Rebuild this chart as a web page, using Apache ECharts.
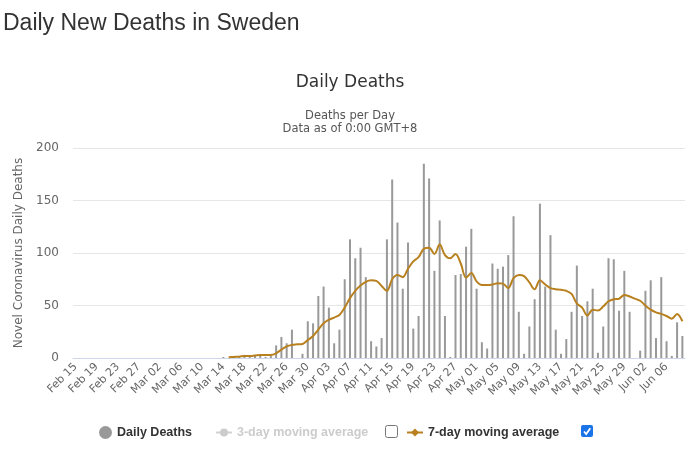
<!DOCTYPE html>
<html>
<head>
<meta charset="utf-8">
<script src="https://cdn.jsdelivr.net/npm/echarts@6/dist/echarts.min.js"></script>
<style>
  html, body { margin: 0; padding: 0; background: #fff; }
  #main { width: 700px; height: 453px; }
</style>
</head>
<body>
<div id="main"></div>
<script>
// Months shown on the x axis: [name, first day, last day]
const monthSpans = [
  ["Feb", 15, 29],
  ["Mar", 1, 31],
  ["Apr", 1, 30],
  ["May", 1, 31],
  ["Jun", 1, 9],
];

// Daily deaths, Feb 15 .. Jun 09
const dailyDeaths = [
  0, 0, 0, 0, 0, 0, 0, 0, 0, 0, 0, 0, 0, 0, 0,          // Feb 15-29
  0, 0, 0, 0, 0, 0, 0, 0, 0, 0, 0, 0, 0, 1, 0, 1,       // Mar 01-16
  1, 3, 1, 3, 3, 1, 2, 12, 20, 14, 27, 0, 4, 35, 33,    // Mar 17-31
  59, 68, 48, 14, 27, 75, 113, 95, 105, 77, 16, 11, 19, 113, 170, // Apr 01-15
  129, 66, 110, 28, 40, 185, 171, 83, 131, 40, 1, 79, 80, 106, 123, // Apr 16-30
  66, 15, 9, 90, 85, 87, 98, 135, 44, 4, 30, 56, 147, 68, 117, 27, // May 01-16
  4, 18, 44, 88, 40, 54, 66, 5, 30, 95, 94, 45, 83, 44, 0, // May 17-31
  7, 64, 74, 19, 77, 16, 2, 34, 21,                      // Jun 01-09
];

// 7-day moving average line, starting Mar 15
const avg7Start = 29;
const avg7Values = [
  0.7, 1, 1.3, 2, 2, 2.4, 2.9, 2.9, 2.9, 4.5, 8, 11, 12.5, 13, 13.4, 17, 21,
  27, 33, 36.5, 38.5, 41, 48, 57, 64, 69, 72.5, 74, 73.5, 68.5, 64, 75, 79,
  77, 85, 92, 96, 104, 105, 99, 108, 98, 95, 99, 90, 76.5, 81, 73, 69.5,
  69.5, 70, 71.3, 70.8, 66.6, 76, 79, 78, 72, 65.5, 74, 70, 66.5, 65.5, 65,
  64, 61, 52, 48, 40.5, 46, 45.2, 49, 54, 56, 56.5, 60, 58.6, 56.5, 54.5,
  50, 46, 43.5, 42, 40, 37.5, 42, 35,
];

const yTicks = { min: 0, max: 200, step: 50 };

const dates = [];
monthSpans.forEach(([m, a, b]) => {
  for (let d = a; d <= b; d++) dates.push(`${m} ${String(d).padStart(2, "0")}`);
});

const avg7 = dates.map((_, i) =>
  i >= avg7Start && i - avg7Start < avg7Values.length ? avg7Values[i - avg7Start] : null
);

const axisFont = "DejaVu Sans, sans-serif";
const legendFont = "Liberation Sans, Arial, sans-serif";

const chart = echarts.init(document.getElementById("main"), null, { renderer: "canvas" });
chart.setOption({
  animation: false,
  title: [
    {
      text: "Daily New Deaths in Sweden",
      left: -2,
      top: 7,
      textStyle: { fontFamily: legendFont, fontSize: 23, fontWeight: "normal", color: "#333" },
    },
    {
      text: "Daily Deaths",
      left: "center",
      top: 69,
      textStyle: { fontFamily: axisFont, fontSize: 17, fontWeight: "normal", color: "#333" },
    },
    {
      text: "Deaths per Day\nData as of 0:00 GMT+8",
      left: "center",
      top: 104,
      textStyle: { fontFamily: axisFont, fontSize: 11.5, lineHeight: 13.5, fontWeight: "normal", color: "#555" },
    },
  ],
  grid: { left: 73, right: 15, top: 148, bottom: 95 },
  legend: [
    {
      data: ["Daily Deaths"],
      left: 94,
      top: 421,
      icon: "circle",
      itemWidth: 13,
      itemHeight: 13,
      textStyle: { fontFamily: legendFont, fontSize: 12.5, fontWeight: "bold", color: "#333" },
    },
    {
      data: ["3-day moving average"],
      left: 210,
      top: 421,
      itemWidth: 16,
      itemHeight: 10,
      selected: { "3-day moving average": false },
      inactiveColor: "#ccc",
      textStyle: { fontFamily: legendFont, fontSize: 12.5, fontWeight: "bold", color: "#333" },
    },
    {
      data: ["7-day moving average"],
      left: 401,
      top: 421,
      itemWidth: 16,
      itemHeight: 10,
      textStyle: { fontFamily: legendFont, fontSize: 12.5, fontWeight: "bold", color: "#333" },
    },
  ],
  xAxis: {
    type: "category",
    data: dates,
    boundaryGap: true,
    axisLine: { lineStyle: { color: "#ccd6eb" } },
    axisTick: { show: false },
    axisLabel: {
      interval: 3,
      rotate: 45,
      margin: 7,
      fontFamily: axisFont,
      fontSize: 11,
      color: "#666",
    },
  },
  yAxis: {
    type: "value",
    min: yTicks.min,
    max: yTicks.max,
    interval: yTicks.step,
    name: "Novel Coronavirus Daily Deaths",
    nameLocation: "middle",
    nameGap: 47,
    nameTextStyle: { fontFamily: axisFont, fontSize: 12, color: "#666" },
    axisLabel: { fontFamily: axisFont, fontSize: 12, color: "#666", margin: 14 },
    splitLine: { lineStyle: { color: "#e6e6e6" } },
    axisLine: { show: false },
    axisTick: { show: false },
  },
  series: [
    {
      name: "Daily Deaths",
      type: "bar",
      data: dailyDeaths,
      barWidth: 2,
      itemStyle: { color: "#999" },
    },
    {
      name: "3-day moving average",
      type: "line",
      data: [],
      symbol: "circle",
      itemStyle: { color: "#bbb" },
      lineStyle: { color: "#bbb", width: 2 },
    },
    {
      name: "7-day moving average",
      type: "line",
      data: avg7,
      smooth: 0.35,
      symbol: "diamond",
      symbolSize: 8,
      showSymbol: false,
      itemStyle: { color: "#b8801e" },
      lineStyle: { color: "#b8801e", width: 2 },
    },
  ],
  graphic: [
    {
      type: "rect",
      left: 385,
      top: 425,
      shape: { width: 12, height: 12, r: 2 },
      style: { fill: "#fff", stroke: "#767676", lineWidth: 1 },
    },
    {
      type: "group",
      left: 581,
      top: 425,
      children: [
        {
          type: "rect",
          shape: { x: 0, y: 0, width: 12, height: 12, r: 2 },
          style: { fill: "#1a73e8" },
        },
        {
          type: "polyline",
          shape: { points: [[3, 6.5], [5.2, 9], [9.3, 3.2]] },
          style: { stroke: "#fff", lineWidth: 1.8, fill: null },
        },
      ],
    },
  ],
});
</script>
</body>
</html>
